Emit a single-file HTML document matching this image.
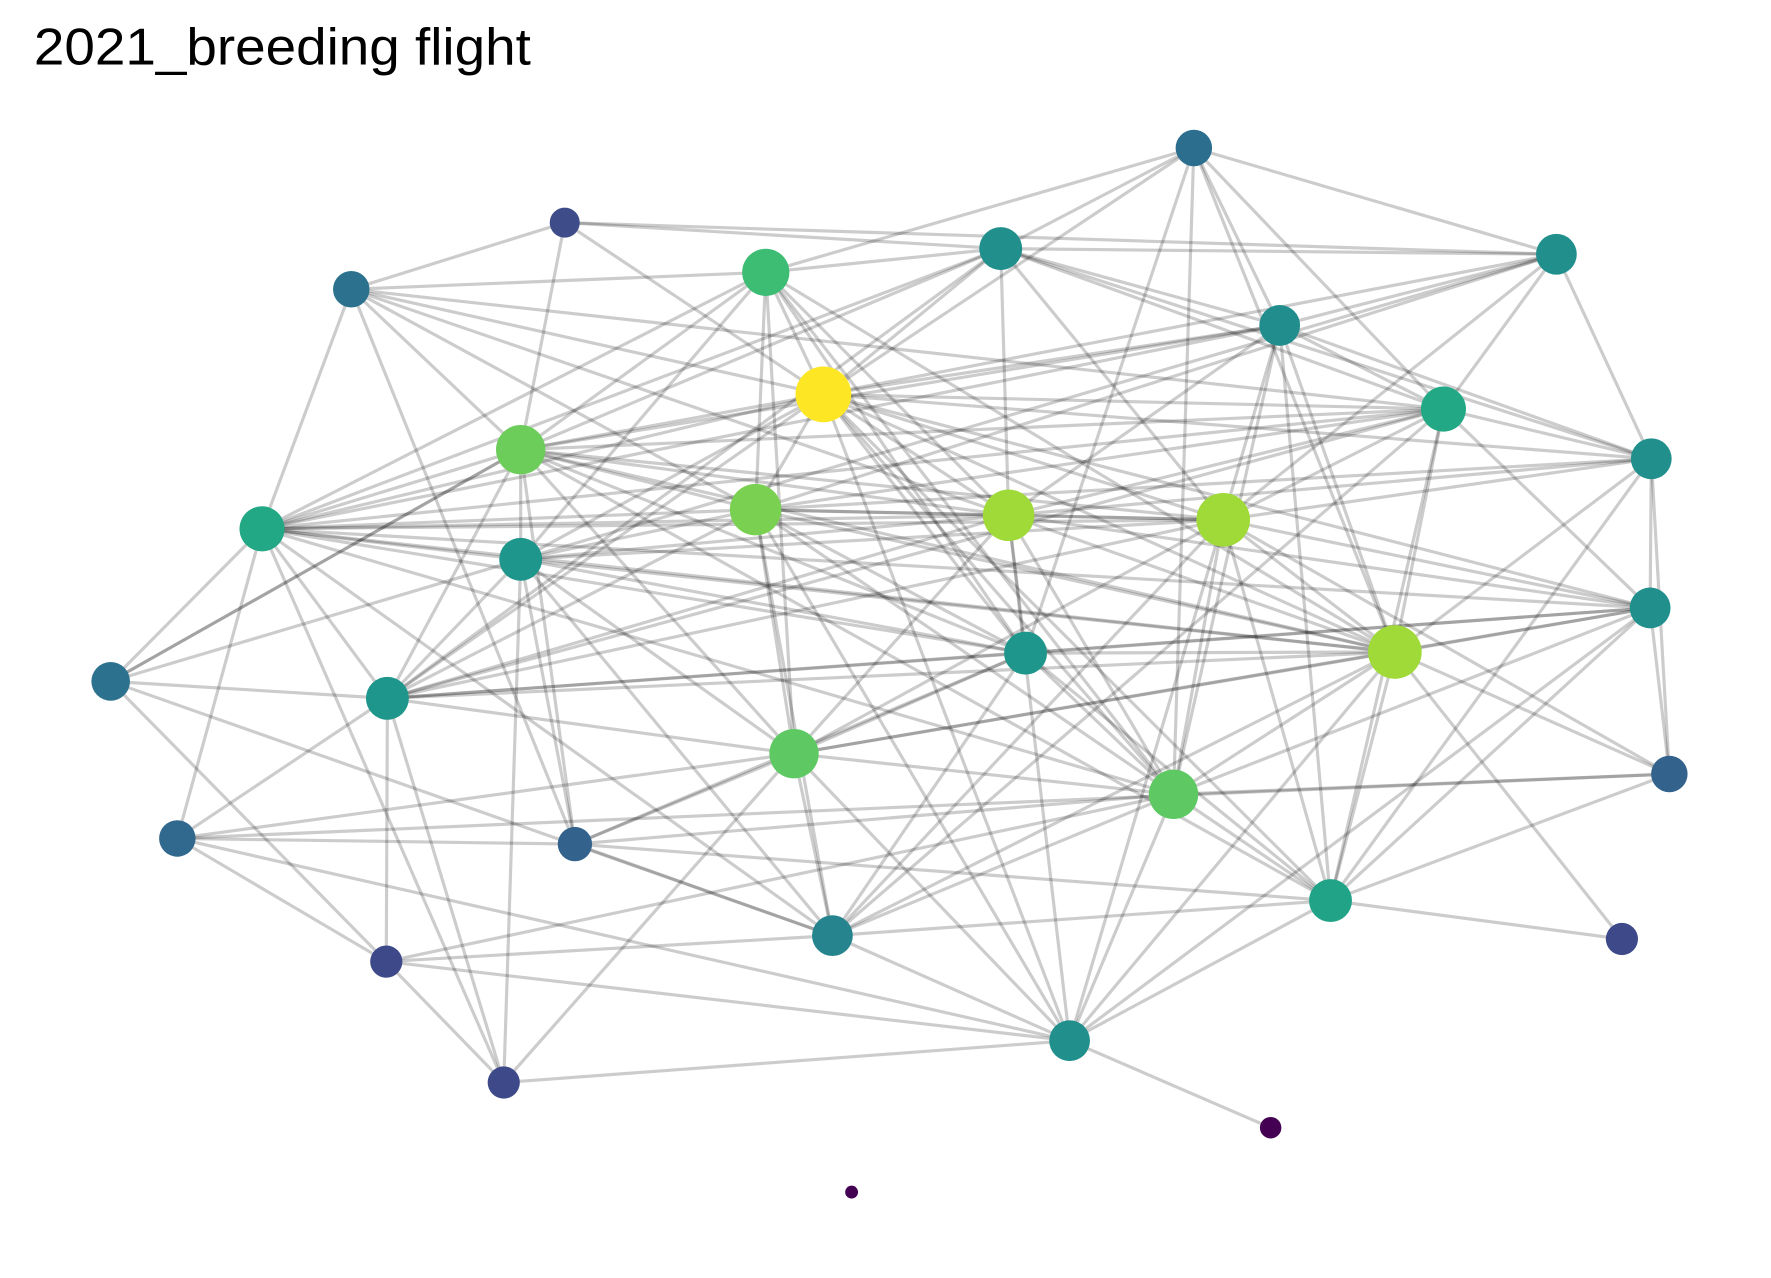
<!DOCTYPE html>
<html><head><meta charset="utf-8"><style>
html,body{margin:0;padding:0;background:#fff;}
svg{display:block;}
</style></head><body>
<svg id="chart" width="1771" height="1278" viewBox="0 0 1568 1131" preserveAspectRatio="none" xmlns="http://www.w3.org/2000/svg">
<text x="30" y="57" font-family="Liberation Sans, sans-serif" font-size="46" fill="#000" textLength="440" lengthAdjust="spacingAndGlyphs">2021_breeding flight</text>
<g id="edges"></g>
<g id="nodes"></g>
</svg>
<script>
const nodeIds = ["A","B","C","D","E","F","G","H","I","J","K","L","M","N","O","P","Q","R","S","T","U","V","W","X","Y","Z","AA","AB","AC","AD","AE","AF","AG","AH"];
const nodeX = [1057,500,886,678,311,1378,1133,729,1278,461,1462,232,669,893,1083,461,1461,908,1235,98,343,703,1478,1039,157,509,1178,737,1436,342,947,446,1125,754];
const nodeY = [131,197,220,241,256,225,288,349,362,398,406,468,451,456,460,495,538,578,577,603,618,667,685,703,742,747,797,828,831,851,921,958,998,1055];
const nodeDegree = [17,14,20,22,17,19,19,26,21,23,19,21,24,24,25,20,19,20,25,18,20,23,17,23,17,16,20,19,15,15,19,15,10,6];
const nodeColor = ["#2c6e8e","#3e4c8a","#21908d","#3dbc74","#2c728e","#21908d","#218d8d","#fde725","#22a884","#6ccd5a","#21908d","#22a884","#7ad151","#a0da39","#a0da39","#1f968b","#21908d","#1f968b","#a0da39","#2c728e","#1f968b","#5ec962","#33638d","#5ec962","#31688e","#33638d","#20a386","#25848e","#3e4989","#3e4989","#21908d","#3e4989","#440154","#440154"];
const edgeList = [
"A-D","A-C","A-F","A-G","A-I","A-S","A-R","A-X","A-H",
"B-C","B-E","B-J","B-H","B-F",
"C-D","C-F","C-G","C-H","C-J","C-N","C-O","C-I","C-K","C-L","C-U",
"D-E","D-H","D-J","D-M","D-N","D-S","D-X","D-R","D-L","D-P","D-V",
"E-H","E-J","E-L","E-Z","E-M","E-N","E-I",
"F-G","F-I","F-K","F-P","F-O","F-H","F-M",
"G-H","G-I","G-K","G-J","G-N","G-S","G-O","G-AA","G-X","G-L",
"H-J","H-L","H-M","H-N","H-O","H-R","H-S","H-X","H-AA","H-AE","H-P","H-U","H-I","H-Q","H-K",
"I-J","I-K","I-M","I-N","I-O","I-S","I-Q","I-U","I-AB","I-AA","I-L",
"J-L","J-M","J-N","J-O","J-P","J-U","J-Z","J-V","J-T","J-S","J-R","J-AA",
"K-O","K-S","K-Q","K-N","K-AA","K-W","K-M",
"L-M","L-N","L-O","L-P","L-R","L-S","L-T","L-U","L-X","L-Y","L-AF","L-Q","L-AB",
"M-N","M-O","M-P","M-R","M-S","M-U","M-V","M-AB","M-X","M-AE",
"N-O","N-P","N-S","N-U","N-V","N-R","N-X","N-AE","N-Q",
"O-P","O-S","O-U","O-V","O-X","O-AA","O-Q","O-AB","O-AE","O-W",
"P-R","P-S","P-U","P-V","P-Z","P-AB","P-AF",
"Q-S","Q-R","Q-V","Q-X","Q-W","Q-AE","Q-AA","Q-U",
"R-S","R-U","R-V","R-X","R-AA","R-AB","R-Z",
"S-V","S-X","S-AA","S-AB","S-AE","S-W","S-AC","S-U",
"T-U","T-AB","T-AD","T-J","T-P",
"U-V","U-Y","U-AD","U-AF",
"V-X","V-AB","V-AE","V-AF","V-Y","V-Z",
"W-X","W-Y","W-AA",
"X-AA","X-AB","X-AE","X-Z","X-AD",
"Y-Z","Y-AD","Y-AE",
"Z-AB","Z-AA",
"AA-AB","AA-AC","AA-AE",
"AB-AD","AB-AE",
"AD-AE","AD-AF",
"AE-AF","AE-AG"
];
const NS="http://www.w3.org/2000/svg";
const eg=document.getElementById('edges');
const ng=document.getElementById('nodes');
function px(i){return nodeX[i];}
function py(i){return nodeY[i];}
edgeList.forEach(function(e){
  const p=e.split('-');
  const a=nodeIds.indexOf(p[0]), b=nodeIds.indexOf(p[1]);
  const l=document.createElementNS(NS,'line');
  l.setAttribute('x1',px(a));l.setAttribute('y1',py(a));
  l.setAttribute('x2',px(b));l.setAttribute('y2',py(b));
  l.setAttribute('stroke','rgba(0,0,0,0.2)');
  l.setAttribute('stroke-width','2.8');
  
  
  eg.appendChild(l);
});
nodeIds.forEach(function(id,i){
  const c=document.createElementNS(NS,'circle');
  c.setAttribute('cx',px(i));c.setAttribute('cy',py(i));
  c.setAttribute('r',nodeDegree[i]*0.95);
  c.setAttribute('fill',nodeColor[i]);
  
  
  ng.appendChild(c);
});
</script>
</body></html>
